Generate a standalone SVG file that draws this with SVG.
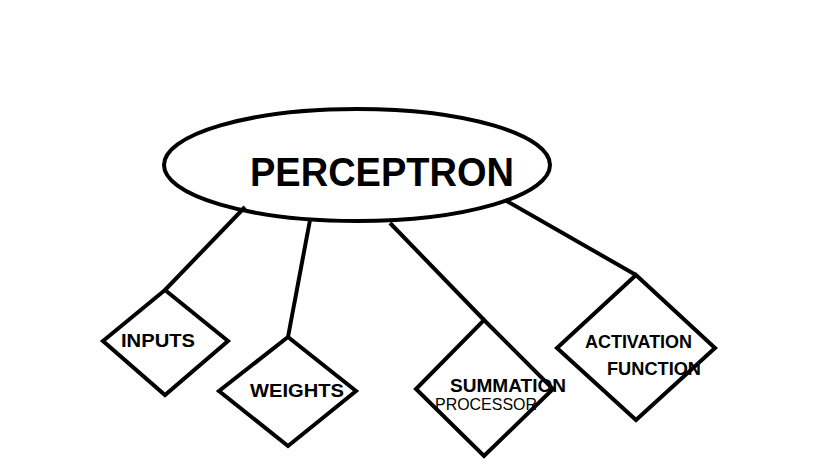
<svg xmlns="http://www.w3.org/2000/svg" width="833" height="470" viewBox="0 0 833 470">
<style>
.s{fill:none;stroke:#000;stroke-width:4}
.t{font-family:"Liberation Sans",Arial,sans-serif;font-weight:bold;font-size:18px;fill:#000}
</style>
<rect width="833" height="470" fill="#fff"/>
<g id="connectors" class="s">
<line x1="245" y1="207" x2="165" y2="290"/>
<line x1="310" y1="220" x2="288" y2="337"/>
<line x1="390" y1="223" x2="484" y2="320"/>
<line x1="505" y1="200" x2="636" y2="275"/>
</g>
<g id="perceptron">
<ellipse class="s" cx="357" cy="165" rx="193" ry="56"/>
<text x="250" y="186" font-family="Liberation Sans,Arial,sans-serif" font-weight="bold" font-size="40" textLength="264" lengthAdjust="spacingAndGlyphs">PERCEPTRON</text>
</g>
<g id="inputs">
<polygon class="s" points="165,290 228,341 165,395 103,341"/>
<text class="t" x="121" y="347" textLength="74" lengthAdjust="spacingAndGlyphs">INPUTS</text>
</g>
<g id="weights">
<polygon class="s" points="288,337 356,391 288,446 219,391"/>
<text class="t" x="250" y="397" textLength="94" lengthAdjust="spacingAndGlyphs">WEIGHTS</text>
</g>
<g id="summation">
<polygon class="s" points="484,320 553,389 484,456 416,389"/>
<text class="t" x="450" y="392" textLength="116" lengthAdjust="spacingAndGlyphs">SUMMATION</text>
<text x="435" y="410" font-family="Liberation Sans,Arial,sans-serif" font-size="17" textLength="102" lengthAdjust="spacingAndGlyphs">PROCESSOR</text>
</g>
<g id="activation">
<polygon class="s" points="636,275 715,348 636,420 557,348"/>
<text class="t" x="585" y="348" textLength="107" lengthAdjust="spacingAndGlyphs">ACTIVATION</text>
<text class="t" x="607" y="375" textLength="94" lengthAdjust="spacingAndGlyphs">FUNCTION</text>
</g>
</svg>
